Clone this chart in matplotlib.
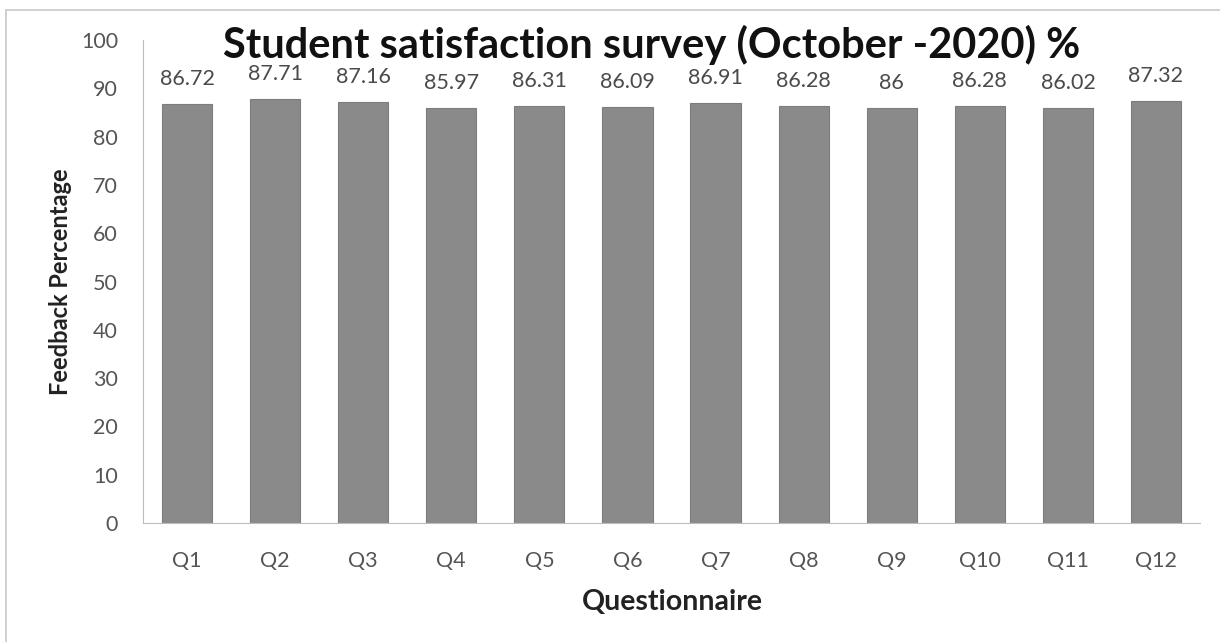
import matplotlib
matplotlib.use("Agg")
import matplotlib.pyplot as plt
from matplotlib.patches import Rectangle

categories = ["Q1", "Q2", "Q3", "Q4", "Q5", "Q6", "Q7", "Q8", "Q9", "Q10", "Q11", "Q12"]
values = [86.72, 87.71, 87.16, 85.97, 86.31, 86.09, 86.91, 86.28, 86, 86.28, 86.02, 87.32]
labels = ["86.72", "87.71", "87.16", "85.97", "86.31", "86.09", "86.91", "86.28", "86", "86.28", "86.02", "87.32"]
yticks = [0, 10, 20, 30, 40, 50, 60, 70, 80, 90, 100]

plt.rcParams['font.family'] = ['Lato', 'DejaVu Sans']

fig = plt.figure(figsize=(12.2, 6.42), dpi=100)
ax = fig.add_axes([143/1220, 1-523/642, (1200-143)/1220, (523-40)/642])

x = list(range(len(categories)))
ax.bar(x, values, width=0.57, color="#8a8a8a", edgecolor="#7d7d7d", linewidth=0.8, zorder=2)
for xi, v, lab in zip(x, values, labels):
    ax.annotate(lab, (xi, v), xytext=(0, 18), textcoords="offset points",
                ha="center", va="center", fontsize=15.5, color="#4a4a4a")

ax.set_xlim(-0.5, len(categories) - 0.5)
ax.set_ylim(0, 100)
ax.set_yticks(yticks)
ax.set_xticks(x)
ax.set_xticklabels(categories)
ax.tick_params(axis="both", length=0, labelsize=15.5, colors="#555555")
ax.tick_params(axis="y", pad=18)
ax.tick_params(axis="x", pad=20)
for s in ["top", "right"]:
    ax.spines[s].set_visible(False)
ax.spines["left"].set_color("#bdbdbd")
ax.spines["bottom"].set_color("#bdbdbd")

ax.set_ylabel("Feedback Percentage", fontsize=17, fontweight="bold", color="#222222")
ax.yaxis.set_label_coords(-(143-60)/1057, (523-282)/483)
ax.set_xlabel("Questionnaire", fontsize=20.5, fontweight="bold", color="#222222")
ax.xaxis.set_label_coords((672-143)/1057, -(602-523)/483)
ax.xaxis.label.set_va("center")
ax.yaxis.label.set_va("center")

fig.text(652/1220, 1-45/642, "Student satisfaction survey (October -2020) %",
         ha="center", va="center", fontsize=30, fontweight="bold", color="#111111")

fig.patches.append(Rectangle((6/1220, -0.05), 1.1, 1.05 - 10/642,
                             transform=fig.transFigure, fill=False,
                             edgecolor="#c8c8c8", linewidth=1.2))

fig.savefig("out.png", dpi=100)
